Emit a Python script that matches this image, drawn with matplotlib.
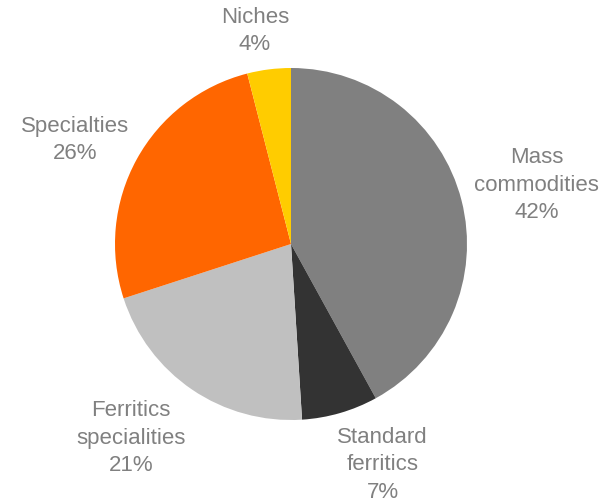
import matplotlib.pyplot as plt

labels = ['Mass\ncommodities', 'Standard\nferritics', 'Ferritics\nspecialities', 'Specialties', 'Niches']
shares = [42, 7, 21, 26, 4]
colors = ['#808080', '#333333', '#c0c0c0', '#ff6600', '#ffcc00']
# label centres in axes data units (pie radius = 1)
label_pos = [(1.395, 0.34), (0.52, -1.25), (-0.91, -1.097), (-1.227, 0.597), (-0.205, 1.215)]

plt.rcParams['font.family'] = ['Liberation Sans', 'DejaVu Sans']

fig = plt.figure(figsize=(6.05, 5.02), dpi=100)
r = 176
cx, cy = 291, 245
ax = fig.add_axes([(cx - r) / 605, (502 - cy - r) / 502, 2 * r / 605, 2 * r / 502])
ax.pie(shares, colors=colors, startangle=90, counterclock=False, radius=1,
       wedgeprops={'linewidth': 0})
ax.set_xlim(-1, 1)
ax.set_ylim(-1, 1)
ax.set_aspect('equal')
ax.axis('off')

for lab, v, (x, y) in zip(labels, shares, label_pos):
    ax.text(x, y, f'{lab}\n{v}%', ha='center', va='center', fontsize=16,
            color='#808080', linespacing=1.4, clip_on=False)

fig.savefig('out.png', dpi=100)
